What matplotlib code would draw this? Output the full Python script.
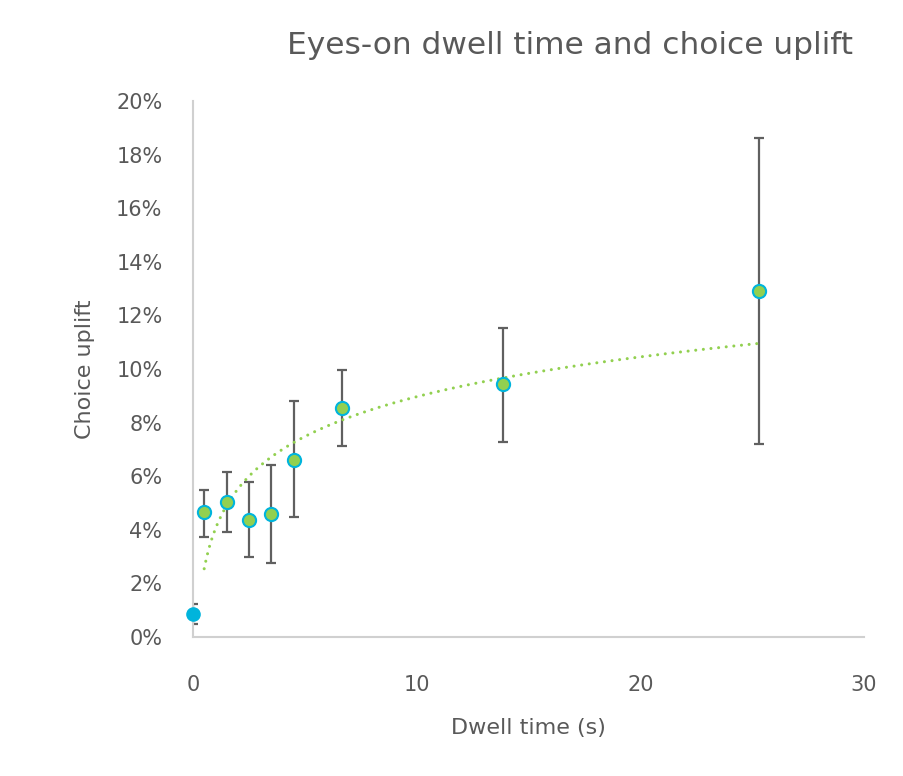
import numpy as np
import matplotlib
matplotlib.use("Agg")
import matplotlib.pyplot as plt
from matplotlib.ticker import FuncFormatter

plt.rcParams['font.family'] = ['DejaVu Sans']

# dwell time (s) and choice uplift (%), with error bar ends (%)
dwell = [0.0, 0.5, 1.5, 2.5, 3.5, 4.5, 6.66, 13.86, 25.3]
uplift = [0.86, 4.66, 5.04, 4.35, 4.60, 6.60, 8.54, 9.44, 12.91]
err_hi = [1.25, 5.49, 6.17, 5.77, 6.42, 8.80, 9.96, 11.53, 18.63]
err_lo = [0.48, 3.75, 3.91, 2.97, 2.77, 4.48, 7.13, 7.28, 7.20]

grey = "#595959"
green = "#92D050"
cyan = "#00B4DC"

fig = plt.figure(figsize=(9.04, 7.76), dpi=100)
ax = fig.add_axes([0.2135, 0.1791, 0.7423, 0.6907])

x = np.array(dwell)
y = np.array(uplift)
yerr = [y - np.array(err_lo), np.array(err_hi) - y]

# error bars (clipped at the axis like the original)
ax.errorbar(x, y, yerr=yerr, fmt="none", ecolor="#606060", elinewidth=1.6,
            capsize=3.8, capthick=1.6, zorder=2)

# logarithmic trendline fitted on the non-zero dwell times
mask = x > 0
b, a = np.polyfit(np.log(x[mask]), y[mask], 1)
xt = np.linspace(x[mask].min(), x[mask].max(), 300)
ax.plot(xt, a + b * np.log(xt), color=green, lw=2.2, linestyle=(0, (0.01, 2.5)),
        dash_capstyle="round", zorder=3)

# markers: first point solid cyan, rest green with cyan edge
ax.plot(x[:1], y[:1], "o", ms=9.5, mfc=cyan, mec=cyan, zorder=4, clip_on=False)
ax.plot(x[1:], y[1:], "o", ms=9.5, mfc=green, mec=cyan, mew=1.5, zorder=4, clip_on=False)

ax.set_xlim(0, 30)
ax.set_ylim(0, 20)
ax.set_xticks([0, 10, 20, 30])
ax.set_yticks(np.arange(0, 21, 2))
ax.yaxis.set_major_formatter(FuncFormatter(lambda v, p: "%d%%" % v))

for s in ["top", "right"]:
    ax.spines[s].set_visible(False)
for s in ["left", "bottom"]:
    ax.spines[s].set_color("#D0D0D0")
    ax.spines[s].set_linewidth(1.5)

ax.tick_params(axis="both", length=0, labelsize=15, labelcolor=grey)
ax.tick_params(axis="y", pad=22)
ax.tick_params(axis="x", pad=27)

ax.set_xlabel("Dwell time (s)", fontsize=16, color=grey)
ax.set_ylabel("Choice uplift", fontsize=16, color=grey)
ax.xaxis.set_label_coords(0.5, -0.152)
ax.yaxis.set_label_coords(-0.146, 0.5)

fig.text(0.631, 0.942, "Eyes-on dwell time and choice uplift", ha="center", va="center",
         fontsize=22.5, color=grey)

fig.savefig("out.png", dpi=100)
